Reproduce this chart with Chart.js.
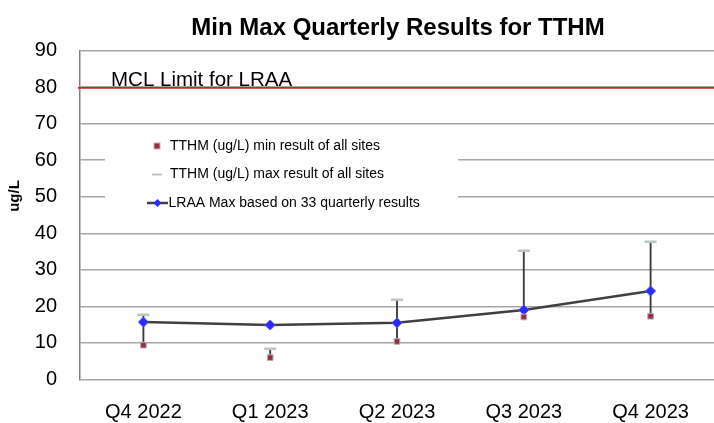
<!DOCTYPE html>
<html>
<head>
<meta charset="utf-8">
<script src="https://cdn.jsdelivr.net/npm/chart.js@4/dist/chart.umd.min.js"></script>
<style>
  html, body { margin: 0; padding: 0; background: #fff; }
  #wrap { width: 714px; height: 423px; position: relative; }
</style>
</head>
<body>
<div id="wrap"><canvas id="c" width="714" height="423"></canvas></div>
<script>
const quarters = ['Q4 2022', 'Q1 2023', 'Q2 2023', 'Q3 2023', 'Q4 2023'];
const minResults = [9.4, 6.0, 10.4, 17.1, 17.3];
const maxResults = [17.7, 8.4, 21.8, 35.2, 37.7];
const lraaMax = [15.7, 14.9, 15.5, 19.0, 24.2];
const mclLimit = 80;
const yTicks = [0, 10, 20, 30, 40, 50, 60, 70, 80, 90];

const chartTitle = 'Min Max Quarterly Results for TTHM';
const yTitle = 'ug/L';
const mclLabel = 'MCL Limit for LRAA';
const legendLabels = [
  'TTHM (ug/L) min result of all sites',
  'TTHM (ug/L) max result of all sites',
  'LRAA Max based on 33 quarterly results'
];

const FONT = '"Liberation Sans", Arial, sans-serif';

const overlay = {
  id: 'overlay',
  beforeDatasetsDraw(chart) {
    const ctx = chart.ctx;
    const y = chart.scales.y;
    const area = chart.chartArea;
    const py = y.getPixelForValue(mclLimit);
    ctx.save();
    ctx.strokeStyle = '#d42020';
    ctx.lineWidth = 1.8;
    ctx.beginPath();
    ctx.moveTo(area.left - 2, py + 0.8);
    ctx.lineTo(area.right, py + 0.8);
    ctx.stroke();
    ctx.fillStyle = '#000';
    ctx.font = '20.5px ' + FONT;
    ctx.textBaseline = 'alphabetic';
    ctx.textAlign = 'left';
    ctx.fillText(mclLabel, 111, py - 1.5);
    ctx.fillStyle = '#fff';
    ctx.fillRect(105, 129, 353, 98);
    ctx.restore();
  },
  afterDraw(chart) {
    const ctx = chart.ctx;
    ctx.save();
    ctx.fillStyle = '#000';
    ctx.font = 'bold 24px ' + FONT;
    ctx.textAlign = 'center';
    ctx.textBaseline = 'alphabetic';
    ctx.fillText(chartTitle, 398, 34.5);
    ctx.save();
    ctx.translate(15, 196);
    ctx.rotate(-Math.PI / 2);
    ctx.font = 'bold 15px ' + FONT;
    ctx.textBaseline = 'middle';
    ctx.fillText(yTitle, 0, 0);
    ctx.restore();
    ctx.font = '14px ' + FONT;
    ctx.textAlign = 'left';
    ctx.textBaseline = 'middle';
    const ys = [146, 174.5, 203];
    ctx.fillStyle = '#993333';
    ctx.strokeStyle = '#c0b0d0';
    ctx.lineWidth = 1;
    ctx.fillRect(154, ys[0] - 3, 6, 6);
    ctx.strokeRect(154, ys[0] - 3, 6, 6);
    ctx.strokeStyle = '#bcc6bc';
    ctx.lineWidth = 2;
    ctx.beginPath();
    ctx.moveTo(152, ys[1]);
    ctx.lineTo(162, ys[1]);
    ctx.stroke();
    ctx.strokeStyle = '#404040';
    ctx.lineWidth = 2.5;
    ctx.beginPath();
    ctx.moveTo(147, ys[2]);
    ctx.lineTo(168, ys[2]);
    ctx.stroke();
    ctx.fillStyle = '#2a2aff';
    ctx.beginPath();
    ctx.moveTo(157.5, ys[2] - 4);
    ctx.lineTo(161.5, ys[2]);
    ctx.lineTo(157.5, ys[2] + 4);
    ctx.lineTo(153.5, ys[2]);
    ctx.closePath();
    ctx.fill();
    ctx.fillStyle = '#000';
    ctx.fillText(legendLabels[0], 170, ys[0]);
    ctx.fillText(legendLabels[1], 170, ys[1]);
    ctx.fillText(legendLabels[2], 168.5, ys[2]);
    ctx.restore();
  }
};

new Chart(document.getElementById('c'), {
  type: 'bar',
  data: {
    labels: quarters,
    datasets: [
      {
        type: 'bar',
        label: 'range',
        data: minResults.map((m, i) => [m, maxResults[i]]),
        backgroundColor: '#3a3a3a',
        barThickness: 1.2,
        order: 4
      },
      {
        type: 'line',
        label: legendLabels[2],
        data: lraaMax,
        borderColor: '#404040',
        borderWidth: 2.5,
        tension: 0,
        pointStyle: 'rectRot',
        pointRadius: 5,
        pointBackgroundColor: '#2a2aff',
        pointBorderColor: '#5050ff',
        pointBorderWidth: 1,
        order: 3
      },
      {
        type: 'line',
        label: legendLabels[0],
        data: minResults,
        showLine: false,
        pointStyle: 'rect',
        pointRadius: 4,
        pointBackgroundColor: '#993333',
        pointBorderColor: '#b8a8cc',
        pointBorderWidth: 1,
        order: 2
      },
      {
        type: 'line',
        label: legendLabels[1],
        data: maxResults,
        showLine: false,
        pointStyle: 'line',
        pointRadius: 6,
        pointBorderColor: '#bcc6bc',
        pointBorderWidth: 2.5,
        order: 1
      }
    ]
  },
  options: {
    responsive: false,
    animation: false,
    events: [],
    layout: { autoPadding: false, padding: { top: 50.5, left: 0, right: 0, bottom: 0 } },
    plugins: {
      legend: { display: false },
      title: { display: false },
      tooltip: { enabled: false }
    },
    scales: {
      x: {
        offset: true,
        grid: { display: false },
        border: { display: false },
        ticks: {
          color: '#000',
          font: { family: FONT, size: 20 },
          padding: 13,
          maxRotation: 0
        },
        afterFit(scale) {
          scale.height = 43.5;
          scale.paddingLeft = 0;
          scale.paddingRight = 0;
        }
      },
      y: {
        min: 0,
        max: 90,
        afterBuildTicks(scale) { scale.ticks = yTicks.map(v => ({ value: v })); },
        grid: { color: '#a6a6a6', lineWidth: 1.5, drawTicks: false },
        border: { display: true, color: '#808080', width: 1.5 },
        ticks: {
          color: '#000',
          font: { family: FONT, size: 20 },
          padding: 23
        },
        afterFit(scale) { scale.width = 80; }
      }
    }
  },
  plugins: [overlay]
});
</script>
</body>
</html>
